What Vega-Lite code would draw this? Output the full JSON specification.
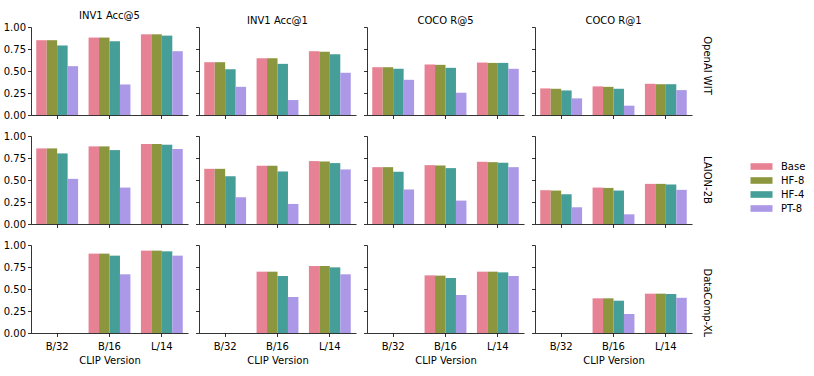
{
"$schema":"https://vega.github.io/schema/vega-lite/v6.json",
"padding":{"left":3,"top":11,"right":5,"bottom":5},
"background":"white",
"config":{
 "view":{"stroke":null},
 "font":"DejaVu Sans",
 "axis":{"grid":false,"domainColor":"#000","tickColor":"#000","labelColor":"#000","titleColor":"#000","labelFont":"DejaVu Sans","titleFont":"DejaVu Sans","labelFontSize":10,"titleFontSize":10,"titleFontWeight":"normal","tickSize":3.5,"domainWidth":0.8,"tickWidth":0.8,"labelPadding":2,"titlePadding":2},
 "axisX":{"labelAngle":0,"labelPadding":5,"titlePadding":4},
 "title":{"font":"DejaVu Sans","fontSize":10,"fontWeight":"normal","color":"#000","offset":0,"dy":3},
 "legend":{"labelFont":"DejaVu Sans","labelFontSize":10,"labelColor":"#000","symbolType":"M-2,-0.6H2V0.6H-2Z","symbolSize":121,"symbolStrokeWidth":0,"symbolOpacity":1,"rowPadding":3,"labelOffset":14,"orient":"none","legendX":725,"legendY":134},
 "concat":{"spacing":11}
},
"datasets":{"d":[
{"d":"OpenAI WIT","m":"INV1 Acc@5","c":"B/32","k":"Base","y":0.85},
{"d":"OpenAI WIT","m":"INV1 Acc@5","c":"B/32","k":"HF-8","y":0.85},
{"d":"OpenAI WIT","m":"INV1 Acc@5","c":"B/32","k":"HF-4","y":0.79},
{"d":"OpenAI WIT","m":"INV1 Acc@5","c":"B/32","k":"PT-8","y":0.555},
{"d":"OpenAI WIT","m":"INV1 Acc@5","c":"B/16","k":"Base","y":0.88},
{"d":"OpenAI WIT","m":"INV1 Acc@5","c":"B/16","k":"HF-8","y":0.88},
{"d":"OpenAI WIT","m":"INV1 Acc@5","c":"B/16","k":"HF-4","y":0.838},
{"d":"OpenAI WIT","m":"INV1 Acc@5","c":"B/16","k":"PT-8","y":0.347},
{"d":"OpenAI WIT","m":"INV1 Acc@5","c":"L/14","k":"Base","y":0.917},
{"d":"OpenAI WIT","m":"INV1 Acc@5","c":"L/14","k":"HF-8","y":0.917},
{"d":"OpenAI WIT","m":"INV1 Acc@5","c":"L/14","k":"HF-4","y":0.902},
{"d":"OpenAI WIT","m":"INV1 Acc@5","c":"L/14","k":"PT-8","y":0.725},
{"d":"OpenAI WIT","m":"INV1 Acc@1","c":"B/32","k":"Base","y":0.6},
{"d":"OpenAI WIT","m":"INV1 Acc@1","c":"B/32","k":"HF-8","y":0.6},
{"d":"OpenAI WIT","m":"INV1 Acc@1","c":"B/32","k":"HF-4","y":0.52},
{"d":"OpenAI WIT","m":"INV1 Acc@1","c":"B/32","k":"PT-8","y":0.32},
{"d":"OpenAI WIT","m":"INV1 Acc@1","c":"B/16","k":"Base","y":0.645},
{"d":"OpenAI WIT","m":"INV1 Acc@1","c":"B/16","k":"HF-8","y":0.645},
{"d":"OpenAI WIT","m":"INV1 Acc@1","c":"B/16","k":"HF-4","y":0.581},
{"d":"OpenAI WIT","m":"INV1 Acc@1","c":"B/16","k":"PT-8","y":0.17},
{"d":"OpenAI WIT","m":"INV1 Acc@1","c":"L/14","k":"Base","y":0.725},
{"d":"OpenAI WIT","m":"INV1 Acc@1","c":"L/14","k":"HF-8","y":0.72},
{"d":"OpenAI WIT","m":"INV1 Acc@1","c":"L/14","k":"HF-4","y":0.69},
{"d":"OpenAI WIT","m":"INV1 Acc@1","c":"L/14","k":"PT-8","y":0.48},
{"d":"OpenAI WIT","m":"COCO R@5","c":"B/32","k":"Base","y":0.543},
{"d":"OpenAI WIT","m":"COCO R@5","c":"B/32","k":"HF-8","y":0.543},
{"d":"OpenAI WIT","m":"COCO R@5","c":"B/32","k":"HF-4","y":0.525},
{"d":"OpenAI WIT","m":"COCO R@5","c":"B/32","k":"PT-8","y":0.4},
{"d":"OpenAI WIT","m":"COCO R@5","c":"B/16","k":"Base","y":0.574},
{"d":"OpenAI WIT","m":"COCO R@5","c":"B/16","k":"HF-8","y":0.57},
{"d":"OpenAI WIT","m":"COCO R@5","c":"B/16","k":"HF-4","y":0.536},
{"d":"OpenAI WIT","m":"COCO R@5","c":"B/16","k":"PT-8","y":0.253},
{"d":"OpenAI WIT","m":"COCO R@5","c":"L/14","k":"Base","y":0.596},
{"d":"OpenAI WIT","m":"COCO R@5","c":"L/14","k":"HF-8","y":0.592},
{"d":"OpenAI WIT","m":"COCO R@5","c":"L/14","k":"HF-4","y":0.592},
{"d":"OpenAI WIT","m":"COCO R@5","c":"L/14","k":"PT-8","y":0.525},
{"d":"OpenAI WIT","m":"COCO R@1","c":"B/32","k":"Base","y":0.302},
{"d":"OpenAI WIT","m":"COCO R@1","c":"B/32","k":"HF-8","y":0.298},
{"d":"OpenAI WIT","m":"COCO R@1","c":"B/32","k":"HF-4","y":0.279},
{"d":"OpenAI WIT","m":"COCO R@1","c":"B/32","k":"PT-8","y":0.189},
{"d":"OpenAI WIT","m":"COCO R@1","c":"B/16","k":"Base","y":0.325},
{"d":"OpenAI WIT","m":"COCO R@1","c":"B/16","k":"HF-8","y":0.32},
{"d":"OpenAI WIT","m":"COCO R@1","c":"B/16","k":"HF-4","y":0.298},
{"d":"OpenAI WIT","m":"COCO R@1","c":"B/16","k":"PT-8","y":0.106},
{"d":"OpenAI WIT","m":"COCO R@1","c":"L/14","k":"Base","y":0.355},
{"d":"OpenAI WIT","m":"COCO R@1","c":"L/14","k":"HF-8","y":0.35},
{"d":"OpenAI WIT","m":"COCO R@1","c":"L/14","k":"HF-4","y":0.35},
{"d":"OpenAI WIT","m":"COCO R@1","c":"L/14","k":"PT-8","y":0.283},
{"d":"LAION-2B","m":"INV1 Acc@5","c":"B/32","k":"Base","y":0.859},
{"d":"LAION-2B","m":"INV1 Acc@5","c":"B/32","k":"HF-8","y":0.859},
{"d":"LAION-2B","m":"INV1 Acc@5","c":"B/32","k":"HF-4","y":0.802},
{"d":"LAION-2B","m":"INV1 Acc@5","c":"B/32","k":"PT-8","y":0.513},
{"d":"LAION-2B","m":"INV1 Acc@5","c":"B/16","k":"Base","y":0.882},
{"d":"LAION-2B","m":"INV1 Acc@5","c":"B/16","k":"HF-8","y":0.882},
{"d":"LAION-2B","m":"INV1 Acc@5","c":"B/16","k":"HF-4","y":0.84},
{"d":"LAION-2B","m":"INV1 Acc@5","c":"B/16","k":"PT-8","y":0.414},
{"d":"LAION-2B","m":"INV1 Acc@5","c":"L/14","k":"Base","y":0.909},
{"d":"LAION-2B","m":"INV1 Acc@5","c":"L/14","k":"HF-8","y":0.909},
{"d":"LAION-2B","m":"INV1 Acc@5","c":"L/14","k":"HF-4","y":0.901},
{"d":"LAION-2B","m":"INV1 Acc@5","c":"L/14","k":"PT-8","y":0.852},
{"d":"LAION-2B","m":"INV1 Acc@1","c":"B/32","k":"Base","y":0.627},
{"d":"LAION-2B","m":"INV1 Acc@1","c":"B/32","k":"HF-8","y":0.627},
{"d":"LAION-2B","m":"INV1 Acc@1","c":"B/32","k":"HF-4","y":0.544},
{"d":"LAION-2B","m":"INV1 Acc@1","c":"B/32","k":"PT-8","y":0.304},
{"d":"LAION-2B","m":"INV1 Acc@1","c":"B/16","k":"Base","y":0.662},
{"d":"LAION-2B","m":"INV1 Acc@1","c":"B/16","k":"HF-8","y":0.662},
{"d":"LAION-2B","m":"INV1 Acc@1","c":"B/16","k":"HF-4","y":0.597},
{"d":"LAION-2B","m":"INV1 Acc@1","c":"B/16","k":"PT-8","y":0.228},
{"d":"LAION-2B","m":"INV1 Acc@1","c":"L/14","k":"Base","y":0.715},
{"d":"LAION-2B","m":"INV1 Acc@1","c":"L/14","k":"HF-8","y":0.711},
{"d":"LAION-2B","m":"INV1 Acc@1","c":"L/14","k":"HF-4","y":0.692},
{"d":"LAION-2B","m":"INV1 Acc@1","c":"L/14","k":"PT-8","y":0.62},
{"d":"LAION-2B","m":"COCO R@5","c":"B/32","k":"Base","y":0.646},
{"d":"LAION-2B","m":"COCO R@5","c":"B/32","k":"HF-8","y":0.646},
{"d":"LAION-2B","m":"COCO R@5","c":"B/32","k":"HF-4","y":0.593},
{"d":"LAION-2B","m":"COCO R@5","c":"B/32","k":"PT-8","y":0.392},
{"d":"LAION-2B","m":"COCO R@5","c":"B/16","k":"Base","y":0.669},
{"d":"LAION-2B","m":"COCO R@5","c":"B/16","k":"HF-8","y":0.665},
{"d":"LAION-2B","m":"COCO R@5","c":"B/16","k":"HF-4","y":0.635},
{"d":"LAION-2B","m":"COCO R@5","c":"B/16","k":"PT-8","y":0.266},
{"d":"LAION-2B","m":"COCO R@5","c":"L/14","k":"Base","y":0.707},
{"d":"LAION-2B","m":"COCO R@5","c":"L/14","k":"HF-8","y":0.703},
{"d":"LAION-2B","m":"COCO R@5","c":"L/14","k":"HF-4","y":0.696},
{"d":"LAION-2B","m":"COCO R@5","c":"L/14","k":"PT-8","y":0.646},
{"d":"LAION-2B","m":"COCO R@1","c":"B/32","k":"Base","y":0.384},
{"d":"LAION-2B","m":"COCO R@1","c":"B/32","k":"HF-8","y":0.38},
{"d":"LAION-2B","m":"COCO R@1","c":"B/32","k":"HF-4","y":0.338},
{"d":"LAION-2B","m":"COCO R@1","c":"B/32","k":"PT-8","y":0.19},
{"d":"LAION-2B","m":"COCO R@1","c":"B/16","k":"Base","y":0.414},
{"d":"LAION-2B","m":"COCO R@1","c":"B/16","k":"HF-8","y":0.41},
{"d":"LAION-2B","m":"COCO R@1","c":"B/16","k":"HF-4","y":0.38},
{"d":"LAION-2B","m":"COCO R@1","c":"B/16","k":"PT-8","y":0.11},
{"d":"LAION-2B","m":"COCO R@1","c":"L/14","k":"Base","y":0.456},
{"d":"LAION-2B","m":"COCO R@1","c":"L/14","k":"HF-8","y":0.456},
{"d":"LAION-2B","m":"COCO R@1","c":"L/14","k":"HF-4","y":0.449},
{"d":"LAION-2B","m":"COCO R@1","c":"L/14","k":"PT-8","y":0.388},
{"d":"DataComp-XL","m":"INV1 Acc@5","c":"B/16","k":"Base","y":0.902},
{"d":"DataComp-XL","m":"INV1 Acc@5","c":"B/16","k":"HF-8","y":0.902},
{"d":"DataComp-XL","m":"INV1 Acc@5","c":"B/16","k":"HF-4","y":0.879},
{"d":"DataComp-XL","m":"INV1 Acc@5","c":"B/16","k":"PT-8","y":0.667},
{"d":"DataComp-XL","m":"INV1 Acc@5","c":"L/14","k":"Base","y":0.936},
{"d":"DataComp-XL","m":"INV1 Acc@5","c":"L/14","k":"HF-8","y":0.936},
{"d":"DataComp-XL","m":"INV1 Acc@5","c":"L/14","k":"HF-4","y":0.928},
{"d":"DataComp-XL","m":"INV1 Acc@5","c":"L/14","k":"PT-8","y":0.879},
{"d":"DataComp-XL","m":"INV1 Acc@1","c":"B/16","k":"Base","y":0.697},
{"d":"DataComp-XL","m":"INV1 Acc@1","c":"B/16","k":"HF-8","y":0.697},
{"d":"DataComp-XL","m":"INV1 Acc@1","c":"B/16","k":"HF-4","y":0.648},
{"d":"DataComp-XL","m":"INV1 Acc@1","c":"B/16","k":"PT-8","y":0.409},
{"d":"DataComp-XL","m":"INV1 Acc@1","c":"L/14","k":"Base","y":0.761},
{"d":"DataComp-XL","m":"INV1 Acc@1","c":"L/14","k":"HF-8","y":0.761},
{"d":"DataComp-XL","m":"INV1 Acc@1","c":"L/14","k":"HF-4","y":0.746},
{"d":"DataComp-XL","m":"INV1 Acc@1","c":"L/14","k":"PT-8","y":0.667},
{"d":"DataComp-XL","m":"COCO R@5","c":"B/16","k":"Base","y":0.655},
{"d":"DataComp-XL","m":"COCO R@5","c":"B/16","k":"HF-8","y":0.652},
{"d":"DataComp-XL","m":"COCO R@5","c":"B/16","k":"HF-4","y":0.625},
{"d":"DataComp-XL","m":"COCO R@5","c":"B/16","k":"PT-8","y":0.432},
{"d":"DataComp-XL","m":"COCO R@5","c":"L/14","k":"Base","y":0.697},
{"d":"DataComp-XL","m":"COCO R@5","c":"L/14","k":"HF-8","y":0.697},
{"d":"DataComp-XL","m":"COCO R@5","c":"L/14","k":"HF-4","y":0.689},
{"d":"DataComp-XL","m":"COCO R@5","c":"L/14","k":"PT-8","y":0.648},
{"d":"DataComp-XL","m":"COCO R@1","c":"B/16","k":"Base","y":0.394},
{"d":"DataComp-XL","m":"COCO R@1","c":"B/16","k":"HF-8","y":0.394},
{"d":"DataComp-XL","m":"COCO R@1","c":"B/16","k":"HF-4","y":0.367},
{"d":"DataComp-XL","m":"COCO R@1","c":"B/16","k":"PT-8","y":0.216},
{"d":"DataComp-XL","m":"COCO R@1","c":"L/14","k":"Base","y":0.447},
{"d":"DataComp-XL","m":"COCO R@1","c":"L/14","k":"HF-8","y":0.447},
{"d":"DataComp-XL","m":"COCO R@1","c":"L/14","k":"HF-4","y":0.443},
{"d":"DataComp-XL","m":"COCO R@1","c":"L/14","k":"PT-8","y":0.4}
]},
"spacing":11,
"vconcat":[
{"bounds":"flush","spacing":11,"title":{"text":"OpenAI WIT","orient":"right","anchor":"middle","offset":10,"dy":0},
 "hconcat":[
  {"width":157,"height":88,"title":"INV1 Acc@5","data":{"name":"d"},"transform":[{"filter":"datum.d=='OpenAI WIT'&&datum.m=='INV1 Acc@5'"}],"mark":"bar",
   "encoding":{"x":{"field":"c","type":"nominal","scale":{"domain":["B/32","B/16","L/14"],"paddingInner":0.2,"paddingOuter":0.1},"axis":{"labels":false,"title":null}},
    "xOffset":{"field":"k","type":"nominal","scale":{"domain":["Base","HF-8","HF-4","PT-8"],"paddingInner":0,"paddingOuter":0}},
    "y":{"field":"y","type":"quantitative","scale":{"domain":[0,1]},"axis":{"labels":true,"values":[0,0.25,0.5,0.75,1],"format":".2f","title":null}},
    "color":{"field":"k","type":"nominal","scale":{"domain":["Base","HF-8","HF-4","PT-8"],"range":["#e68294","#8c963f","#459e97","#ab99e7"]},"legend":{"title":null}}}},
  {"width":157,"height":88,"title":"INV1 Acc@1","data":{"name":"d"},"transform":[{"filter":"datum.d=='OpenAI WIT'&&datum.m=='INV1 Acc@1'"}],"mark":"bar",
   "encoding":{"x":{"field":"c","type":"nominal","scale":{"domain":["B/32","B/16","L/14"],"paddingInner":0.2,"paddingOuter":0.1},"axis":{"labels":false,"title":null}},
    "xOffset":{"field":"k","type":"nominal","scale":{"domain":["Base","HF-8","HF-4","PT-8"],"paddingInner":0,"paddingOuter":0}},
    "y":{"field":"y","type":"quantitative","scale":{"domain":[0,1]},"axis":{"labels":false,"values":[0,0.25,0.5,0.75,1],"title":null}},
    "color":{"field":"k","type":"nominal","scale":{"domain":["Base","HF-8","HF-4","PT-8"],"range":["#e68294","#8c963f","#459e97","#ab99e7"]},"legend":{"title":null}}}},
  {"width":157,"height":88,"title":"COCO R@5","data":{"name":"d"},"transform":[{"filter":"datum.d=='OpenAI WIT'&&datum.m=='COCO R@5'"}],"mark":"bar",
   "encoding":{"x":{"field":"c","type":"nominal","scale":{"domain":["B/32","B/16","L/14"],"paddingInner":0.2,"paddingOuter":0.1},"axis":{"labels":false,"title":null}},
    "xOffset":{"field":"k","type":"nominal","scale":{"domain":["Base","HF-8","HF-4","PT-8"],"paddingInner":0,"paddingOuter":0}},
    "y":{"field":"y","type":"quantitative","scale":{"domain":[0,1]},"axis":{"labels":false,"values":[0,0.25,0.5,0.75,1],"title":null}},
    "color":{"field":"k","type":"nominal","scale":{"domain":["Base","HF-8","HF-4","PT-8"],"range":["#e68294","#8c963f","#459e97","#ab99e7"]},"legend":{"title":null}}}},
  {"width":157,"height":88,"title":"COCO R@1","data":{"name":"d"},"transform":[{"filter":"datum.d=='OpenAI WIT'&&datum.m=='COCO R@1'"}],"mark":"bar",
   "encoding":{"x":{"field":"c","type":"nominal","scale":{"domain":["B/32","B/16","L/14"],"paddingInner":0.2,"paddingOuter":0.1},"axis":{"labels":false,"title":null}},
    "xOffset":{"field":"k","type":"nominal","scale":{"domain":["Base","HF-8","HF-4","PT-8"],"paddingInner":0,"paddingOuter":0}},
    "y":{"field":"y","type":"quantitative","scale":{"domain":[0,1]},"axis":{"labels":false,"values":[0,0.25,0.5,0.75,1],"title":null}},
    "color":{"field":"k","type":"nominal","scale":{"domain":["Base","HF-8","HF-4","PT-8"],"range":["#e68294","#8c963f","#459e97","#ab99e7"]},"legend":{"title":null}}}}
 ]},
{"bounds":"flush","spacing":11,"title":{"text":"LAION-2B","orient":"right","anchor":"middle","offset":10,"dy":0},
 "hconcat":[
  {"width":157,"height":88,"data":{"name":"d"},"transform":[{"filter":"datum.d=='LAION-2B'&&datum.m=='INV1 Acc@5'"}],"mark":"bar",
   "encoding":{"x":{"field":"c","type":"nominal","scale":{"domain":["B/32","B/16","L/14"],"paddingInner":0.2,"paddingOuter":0.1},"axis":{"labels":false,"title":null}},
    "xOffset":{"field":"k","type":"nominal","scale":{"domain":["Base","HF-8","HF-4","PT-8"],"paddingInner":0,"paddingOuter":0}},
    "y":{"field":"y","type":"quantitative","scale":{"domain":[0,1]},"axis":{"labels":true,"values":[0,0.25,0.5,0.75,1],"format":".2f","title":null}},
    "color":{"field":"k","type":"nominal","scale":{"domain":["Base","HF-8","HF-4","PT-8"],"range":["#e68294","#8c963f","#459e97","#ab99e7"]},"legend":{"title":null}}}},
  {"width":157,"height":88,"data":{"name":"d"},"transform":[{"filter":"datum.d=='LAION-2B'&&datum.m=='INV1 Acc@1'"}],"mark":"bar",
   "encoding":{"x":{"field":"c","type":"nominal","scale":{"domain":["B/32","B/16","L/14"],"paddingInner":0.2,"paddingOuter":0.1},"axis":{"labels":false,"title":null}},
    "xOffset":{"field":"k","type":"nominal","scale":{"domain":["Base","HF-8","HF-4","PT-8"],"paddingInner":0,"paddingOuter":0}},
    "y":{"field":"y","type":"quantitative","scale":{"domain":[0,1]},"axis":{"labels":false,"values":[0,0.25,0.5,0.75,1],"title":null}},
    "color":{"field":"k","type":"nominal","scale":{"domain":["Base","HF-8","HF-4","PT-8"],"range":["#e68294","#8c963f","#459e97","#ab99e7"]},"legend":{"title":null}}}},
  {"width":157,"height":88,"data":{"name":"d"},"transform":[{"filter":"datum.d=='LAION-2B'&&datum.m=='COCO R@5'"}],"mark":"bar",
   "encoding":{"x":{"field":"c","type":"nominal","scale":{"domain":["B/32","B/16","L/14"],"paddingInner":0.2,"paddingOuter":0.1},"axis":{"labels":false,"title":null}},
    "xOffset":{"field":"k","type":"nominal","scale":{"domain":["Base","HF-8","HF-4","PT-8"],"paddingInner":0,"paddingOuter":0}},
    "y":{"field":"y","type":"quantitative","scale":{"domain":[0,1]},"axis":{"labels":false,"values":[0,0.25,0.5,0.75,1],"title":null}},
    "color":{"field":"k","type":"nominal","scale":{"domain":["Base","HF-8","HF-4","PT-8"],"range":["#e68294","#8c963f","#459e97","#ab99e7"]},"legend":{"title":null}}}},
  {"width":157,"height":88,"data":{"name":"d"},"transform":[{"filter":"datum.d=='LAION-2B'&&datum.m=='COCO R@1'"}],"mark":"bar",
   "encoding":{"x":{"field":"c","type":"nominal","scale":{"domain":["B/32","B/16","L/14"],"paddingInner":0.2,"paddingOuter":0.1},"axis":{"labels":false,"title":null}},
    "xOffset":{"field":"k","type":"nominal","scale":{"domain":["Base","HF-8","HF-4","PT-8"],"paddingInner":0,"paddingOuter":0}},
    "y":{"field":"y","type":"quantitative","scale":{"domain":[0,1]},"axis":{"labels":false,"values":[0,0.25,0.5,0.75,1],"title":null}},
    "color":{"field":"k","type":"nominal","scale":{"domain":["Base","HF-8","HF-4","PT-8"],"range":["#e68294","#8c963f","#459e97","#ab99e7"]},"legend":{"title":null}}}}
 ]},
{"bounds":"flush","spacing":11,"title":{"text":"DataComp-XL","orient":"right","anchor":"middle","offset":10,"dy":0},
 "hconcat":[
  {"width":157,"height":88,"data":{"name":"d"},"transform":[{"filter":"datum.d=='DataComp-XL'&&datum.m=='INV1 Acc@5'"}],"mark":"bar",
   "encoding":{"x":{"field":"c","type":"nominal","scale":{"domain":["B/32","B/16","L/14"],"paddingInner":0.2,"paddingOuter":0.1},"axis":{"labels":true,"title":"CLIP Version"}},
    "xOffset":{"field":"k","type":"nominal","scale":{"domain":["Base","HF-8","HF-4","PT-8"],"paddingInner":0,"paddingOuter":0}},
    "y":{"field":"y","type":"quantitative","scale":{"domain":[0,1]},"axis":{"labels":true,"values":[0,0.25,0.5,0.75,1],"format":".2f","title":null}},
    "color":{"field":"k","type":"nominal","scale":{"domain":["Base","HF-8","HF-4","PT-8"],"range":["#e68294","#8c963f","#459e97","#ab99e7"]},"legend":{"title":null}}}},
  {"width":157,"height":88,"data":{"name":"d"},"transform":[{"filter":"datum.d=='DataComp-XL'&&datum.m=='INV1 Acc@1'"}],"mark":"bar",
   "encoding":{"x":{"field":"c","type":"nominal","scale":{"domain":["B/32","B/16","L/14"],"paddingInner":0.2,"paddingOuter":0.1},"axis":{"labels":true,"title":"CLIP Version"}},
    "xOffset":{"field":"k","type":"nominal","scale":{"domain":["Base","HF-8","HF-4","PT-8"],"paddingInner":0,"paddingOuter":0}},
    "y":{"field":"y","type":"quantitative","scale":{"domain":[0,1]},"axis":{"labels":false,"values":[0,0.25,0.5,0.75,1],"title":null}},
    "color":{"field":"k","type":"nominal","scale":{"domain":["Base","HF-8","HF-4","PT-8"],"range":["#e68294","#8c963f","#459e97","#ab99e7"]},"legend":{"title":null}}}},
  {"width":157,"height":88,"data":{"name":"d"},"transform":[{"filter":"datum.d=='DataComp-XL'&&datum.m=='COCO R@5'"}],"mark":"bar",
   "encoding":{"x":{"field":"c","type":"nominal","scale":{"domain":["B/32","B/16","L/14"],"paddingInner":0.2,"paddingOuter":0.1},"axis":{"labels":true,"title":"CLIP Version"}},
    "xOffset":{"field":"k","type":"nominal","scale":{"domain":["Base","HF-8","HF-4","PT-8"],"paddingInner":0,"paddingOuter":0}},
    "y":{"field":"y","type":"quantitative","scale":{"domain":[0,1]},"axis":{"labels":false,"values":[0,0.25,0.5,0.75,1],"title":null}},
    "color":{"field":"k","type":"nominal","scale":{"domain":["Base","HF-8","HF-4","PT-8"],"range":["#e68294","#8c963f","#459e97","#ab99e7"]},"legend":{"title":null}}}},
  {"width":157,"height":88,"data":{"name":"d"},"transform":[{"filter":"datum.d=='DataComp-XL'&&datum.m=='COCO R@1'"}],"mark":"bar",
   "encoding":{"x":{"field":"c","type":"nominal","scale":{"domain":["B/32","B/16","L/14"],"paddingInner":0.2,"paddingOuter":0.1},"axis":{"labels":true,"title":"CLIP Version"}},
    "xOffset":{"field":"k","type":"nominal","scale":{"domain":["Base","HF-8","HF-4","PT-8"],"paddingInner":0,"paddingOuter":0}},
    "y":{"field":"y","type":"quantitative","scale":{"domain":[0,1]},"axis":{"labels":false,"values":[0,0.25,0.5,0.75,1],"title":null}},
    "color":{"field":"k","type":"nominal","scale":{"domain":["Base","HF-8","HF-4","PT-8"],"range":["#e68294","#8c963f","#459e97","#ab99e7"]},"legend":{"title":null}}}}
 ]}
]
}
